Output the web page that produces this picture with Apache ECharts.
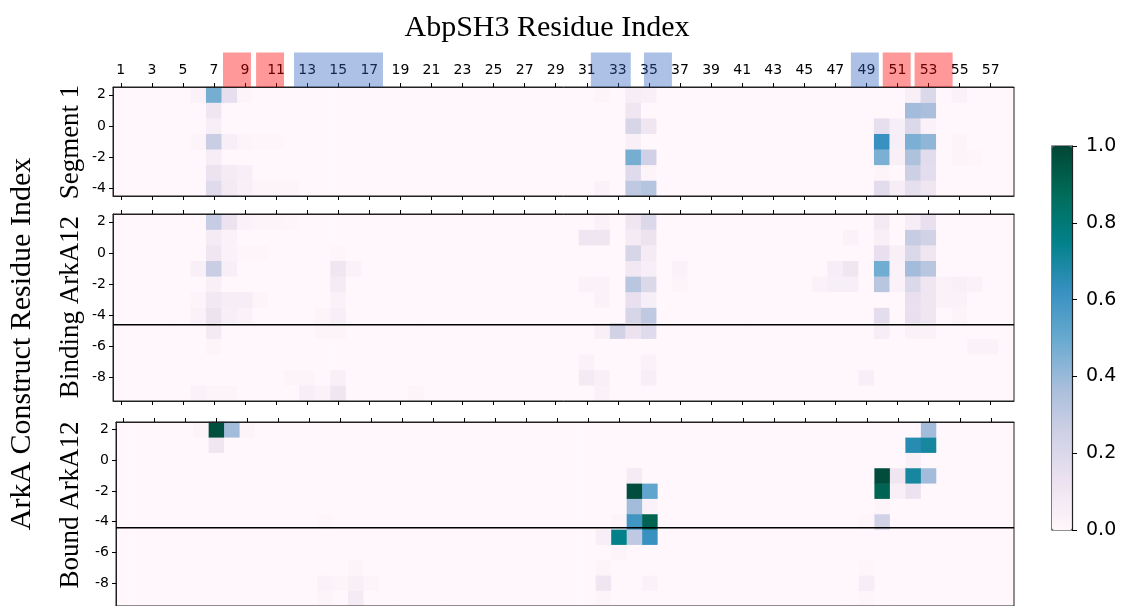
<!DOCTYPE html>
<html>
<head>
<meta charset="utf-8">
<script src="https://cdn.jsdelivr.net/npm/echarts@6/dist/echarts.min.js"></script>
<style>
  html, body { margin: 0; padding: 0; background: #fff; }
  #chart { width: 1122px; height: 606px; }
</style>
</head>
<body>
<div id="chart"></div>
<script>
// AbpSH3 residues along x, ArkA construct residues along y
const residues = Array.from({ length: 58 }, (_, i) => String(i + 1));
const segmentRows = ['-4', '-3', '-2', '-1', '0', '1', '2'];
const arkaRows = ['-9', '-8', '-7', '-6', '-5', '-4', '-3', '-2', '-1', '0', '1', '2'];
const colorbarTicks = [0, 0.2, 0.4, 0.6, 0.8, 1.0];

// Non-zero contact frequencies: [AbpSH3 residue, ArkA residue, value]
const segment1Cells = [
  [6, 2, 0.03], [7, 2, 0.47], [8, 2, 0.15], [9, 2, 0.02],
  [7, 1, 0.10],
  [7, 0, 0.05],
  [6, -1, 0.02], [7, -1, 0.27], [8, -1, 0.05], [9, -1, 0.02], [10, -1, 0.01], [11, -1, 0.01],
  [7, -2, 0.06],
  [7, -3, 0.12], [8, -3, 0.07], [9, -3, 0.05],
  [7, -4, 0.18], [8, -4, 0.08], [9, -4, 0.04], [10, -4, 0.02], [11, -4, 0.02], [12, -4, 0.02],
  [32, 2, 0.02], [34, 2, 0.06], [35, 2, 0.04], [52, 2, 0.04], [53, 2, 0.20], [55, 2, 0.03],
  [34, 1, 0.10], [52, 1, 0.38], [53, 1, 0.36],
  [34, 0, 0.22], [35, 0, 0.10], [50, 0, 0.15], [51, 0, 0.05], [52, 0, 0.20], [53, 0, 0.03],
  [34, -1, 0.04], [50, -1, 0.62], [51, -1, 0.05], [52, -1, 0.46], [53, -1, 0.42], [55, -1, 0.02],
  [34, -2, 0.47], [35, -2, 0.25], [50, -2, 0.46], [51, -2, 0.04], [52, -2, 0.35], [53, -2, 0.17], [55, -2, 0.02], [56, -2, 0.01],
  [34, -3, 0.18], [35, -3, 0.02], [50, -3, 0.02], [52, -3, 0.26], [53, -3, 0.16],
  [32, -4, 0.03], [34, -4, 0.30], [35, -4, 0.33], [50, -4, 0.17], [51, -4, 0.06], [52, -4, 0.15], [53, -4, 0.10]
];

const bindingCells = [
  [7, 2, 0.28], [8, 2, 0.12], [9, 2, 0.03], [10, 2, 0.02], [11, 2, 0.02], [12, 2, 0.01],
  [32, 2, 0.03], [34, 2, 0.10], [35, 2, 0.20], [50, 2, 0.08], [52, 2, 0.06], [53, 2, 0.14],
  [7, 1, 0.07], [8, 1, 0.03],
  [31, 1, 0.10], [32, 1, 0.10], [34, 1, 0.07], [35, 1, 0.12], [48, 1, 0.03], [50, 1, 0.04], [52, 1, 0.28], [53, 1, 0.24],
  [7, 0, 0.10], [8, 0, 0.03], [9, 0, 0.01], [10, 0, 0.01], [15, 0, 0.01],
  [34, 0, 0.22], [35, 0, 0.07], [50, 0, 0.14], [51, 0, 0.04], [52, 0, 0.20], [53, 0, 0.10],
  [6, -1, 0.04], [7, -1, 0.27], [8, -1, 0.05], [15, -1, 0.10], [16, -1, 0.03],
  [34, -1, 0.09], [35, -1, 0.05], [37, -1, 0.03], [47, -1, 0.06], [48, -1, 0.10], [50, -1, 0.48], [51, -1, 0.03], [52, -1, 0.38], [53, -1, 0.32],
  [7, -2, 0.04], [15, -2, 0.07],
  [31, -2, 0.03], [32, -2, 0.03], [34, -2, 0.32], [35, -2, 0.20], [37, -2, 0.02], [46, -2, 0.03], [47, -2, 0.05], [48, -2, 0.05],
  [50, -2, 0.32], [51, -2, 0.03], [52, -2, 0.20], [53, -2, 0.10], [54, -2, 0.03], [55, -2, 0.04], [56, -2, 0.03],
  [6, -3, 0.02], [7, -3, 0.09], [8, -3, 0.06], [9, -3, 0.06], [10, -3, 0.02], [15, -3, 0.03],
  [32, -3, 0.03], [34, -3, 0.14], [35, -3, 0.05], [52, -3, 0.14], [53, -3, 0.10], [54, -3, 0.03], [55, -3, 0.03],
  [6, -4, 0.03], [7, -4, 0.12], [8, -4, 0.05], [9, -4, 0.03], [14, -4, 0.02], [15, -4, 0.05],
  [34, -4, 0.22], [35, -4, 0.30], [50, -4, 0.16], [52, -4, 0.14], [53, -4, 0.10], [55, -4, 0.02],
  [7, -5, 0.08], [14, -5, 0.02], [15, -5, 0.02],
  [32, -5, 0.04], [33, -5, 0.24], [34, -5, 0.12], [35, -5, 0.18], [50, -5, 0.06], [52, -5, 0.03], [53, -5, 0.03],
  [7, -6, 0.02], [56, -6, 0.03], [57, -6, 0.03],
  [31, -7, 0.03], [35, -7, 0.03],
  [12, -8, 0.02], [13, -8, 0.02], [15, -8, 0.04],
  [31, -8, 0.08], [32, -8, 0.04], [35, -8, 0.05], [49, -8, 0.05],
  [6, -9, 0.03], [7, -9, 0.02], [8, -9, 0.02], [13, -9, 0.05], [14, -9, 0.03], [15, -9, 0.10], [20, -9, 0.02],
  [32, -9, 0.03]
];

const boundCells = [
  [6, 2, 0.02], [7, 2, 0.97], [8, 2, 0.38], [9, 2, 0.02], [53, 2, 0.38],
  [7, 1, 0.10], [52, 1, 0.66], [53, 1, 0.70],
  [52, 0, 0.04],
  [34, -1, 0.07], [50, -1, 0.98], [51, -1, 0.10], [52, -1, 0.70], [53, -1, 0.38],
  [34, -2, 0.98], [35, -2, 0.52], [50, -2, 0.90], [51, -2, 0.04], [52, -2, 0.12],
  [34, -3, 0.38], [35, -3, 0.03], [50, -3, 0.02],
  [14, -4, 0.01], [33, -4, 0.02], [34, -4, 0.60], [35, -4, 0.90], [49, -4, 0.01], [50, -4, 0.24],
  [32, -5, 0.05], [33, -5, 0.75], [34, -5, 0.30], [35, -5, 0.62],
  [33, -6, 0.02],
  [16, -7, 0.02], [32, -7, 0.02], [49, -7, 0.01],
  [14, -8, 0.03], [15, -8, 0.02], [16, -8, 0.04], [17, -8, 0.02], [32, -8, 0.10], [35, -8, 0.03], [49, -8, 0.06],
  [14, -9, 0.02], [16, -9, 0.07], [32, -9, 0.02], [49, -9, 0.01]
];

// Boundary between the two ArkA12 segments
const bindingSplit = -4.6;
const boundSplit = -4.4;

// Highlighted AbpSH3 residue spans on the top axis (residue units)
const redSpans = [[7.58, 9.38], [9.71, 11.51], [50.05, 51.85], [52.1, 54.55]];
const blueSpans = [[12.15, 17.88], [31.26, 33.83], [34.68, 36.48], [48.0, 49.8]];

// matplotlib PuBuGn
const puBuGn = ['#fff7fb', '#ece2f0', '#d0d1e6', '#a6bddb', '#67a9cf', '#3690c0', '#02818a', '#016c59', '#014636'];

function toGrid(cells, rows) {
  const lookup = {};
  cells.forEach(([x, y, v]) => { lookup[x + ',' + y] = v; });
  const out = [];
  residues.forEach((r, xi) => {
    rows.forEach((row, yi) => {
      const v = lookup[r + ',' + row];
      out.push([xi, yi, v === undefined ? 0 : v]);
    });
  });
  return out;
}

const SANS = 'DejaVu Sans';
const SERIF = 'Liberation Serif';
const FRAME = '#222';
const oddOnly = (i) => i % 2 === 0;
const evenRow = (i, v) => Number(v) % 2 === 0;

const panels = [
  { left: 113, top: 87, width: 901, height: 109, rows: segmentRows, cells: segment1Cells, labels: true },
  { left: 113, top: 214, width: 901, height: 187, rows: arkaRows, cells: bindingCells, split: bindingSplit },
  { left: 116, top: 422, width: 898, height: 186, rows: arkaRows, cells: boundCells, split: boundSplit }
];

const grid = [], xAxis = [], yAxis = [], series = [];
panels.forEach((p, gi) => {
  grid.push({ left: p.left, top: p.top, width: p.width, height: p.height, show: true,
    borderColor: FRAME, borderWidth: 1, backgroundColor: 'transparent', z: 3 });
  const xBase = xAxis.length;
  ['bottom', 'top'].forEach((pos) => {
    xAxis.push({
      type: 'category', gridIndex: gi, position: pos, data: residues,
      axisLine: { show: true, onZero: false, lineStyle: { color: FRAME, width: 1 } },
      axisTick: { show: true, alignWithLabel: true, interval: oddOnly, length: 4, lineStyle: { color: '#000' } },
      axisLabel: { show: pos === 'top' && !!p.labels, interval: oddOnly, fontFamily: SANS, fontSize: 14, color: '#000', margin: 10 },
      splitLine: { show: false }, z: 4
    });
  });
  xAxis.push({ type: 'value', gridIndex: gi, min: 0.5, max: 58.5, show: false });
  const yBase = yAxis.length;
  yAxis.push({
    type: 'category', gridIndex: gi, data: p.rows,
    axisLine: { show: true, onZero: false, lineStyle: { color: FRAME, width: 1 } },
    axisTick: { show: true, alignWithLabel: true, interval: evenRow, length: 4, lineStyle: { color: '#000' } },
    axisLabel: { interval: evenRow, fontFamily: SANS, fontSize: 14, color: '#000', margin: 7 },
    splitLine: { show: false }, z: 4
  });
  yAxis.push({ type: 'value', gridIndex: gi, min: Number(p.rows[0]) - 0.5, max: Number(p.rows[p.rows.length - 1]) + 0.5, show: false });
  series.push({
    type: 'heatmap', xAxisIndex: xBase, yAxisIndex: yBase,
    data: toGrid(p.cells, p.rows), itemStyle: { borderWidth: 0 }, z: 2, silent: true,
    emphasis: { disabled: true }
  });
  p.valueX = xBase + 2;
  p.valueY = yBase + 1;
});

// separator lines inside the ArkA12 panels
panels.forEach((p) => {
  if (p.split === undefined) return;
  series.push({
    type: 'line', xAxisIndex: p.valueX, yAxisIndex: p.valueY,
    data: [[0.5, p.split], [58.5, p.split]], symbol: 'none', silent: true, clip: false,
    lineStyle: { color: '#000', width: 1.5 }, z: 5
  });
});

// colour bar frame and scale
grid.push({ left: 1052, top: 146, width: 20, height: 384, show: true, borderColor: FRAME, borderWidth: 1.2, backgroundColor: 'transparent', z: 3 });
xAxis.push({ type: 'value', gridIndex: 3, show: false, min: 0, max: 1 });
yAxis.push({
  type: 'value', gridIndex: 3, position: 'right', min: colorbarTicks[0], max: colorbarTicks[colorbarTicks.length - 1], interval: 0.2,
  axisLine: { show: true, onZero: false, lineStyle: { color: FRAME, width: 1.2 } },
  axisTick: { show: true, length: 5, lineStyle: { color: '#000' } },
  axisLabel: { fontFamily: SANS, fontSize: 19, color: '#000', margin: 14, formatter: (v) => v.toFixed(1) },
  splitLine: { show: false }, z: 4
});

const titleGraphics = [
  { id: 't-top', type: 'text', x: 547, y: 28, style: { text: 'AbpSH3 Residue Index', font: '30px "' + SERIF + '"', fill: '#000', textAlign: 'center', textVerticalAlign: 'middle' } },
  { id: 't-left', type: 'text', x: 22, y: 344, rotation: Math.PI / 2, style: { text: 'ArkA Construct Residue Index', font: '30px "' + SERIF + '"', fill: '#000', textAlign: 'center', textVerticalAlign: 'middle' } },
  { id: 't-seg', type: 'text', x: 71, y: 142, rotation: Math.PI / 2, style: { text: 'Segment 1', font: '27px "' + SERIF + '"', fill: '#000', textAlign: 'center', textVerticalAlign: 'middle' } },
  { id: 't-bind', type: 'text', x: 71, y: 307, rotation: Math.PI / 2, style: { text: 'Binding ArkA12', font: '27px "' + SERIF + '"', fill: '#000', textAlign: 'center', textVerticalAlign: 'middle' } },
  { id: 't-bound', type: 'text', x: 71, y: 505, rotation: Math.PI / 2, style: { text: 'Bound ArkA12', font: '27px "' + SERIF + '"', fill: '#000', textAlign: 'center', textVerticalAlign: 'middle' } }
];

const chart = echarts.init(document.getElementById('chart'), null, { renderer: 'canvas' });
chart.setOption({
  animation: false,
  backgroundColor: '#fff',
  grid, xAxis, yAxis, series,
  visualMap: {
    type: 'continuous', min: 0, max: 1, seriesIndex: [0, 1, 2],
    left: 1052, top: 146, itemWidth: 20, itemHeight: 384, padding: 0,
    calculable: false, hoverLink: false, text: null, showLabel: false,
    inRange: { color: puBuGn }
  },
  graphic: titleGraphics
});

// translucent highlight boxes over the top residue labels
const p0 = panels[0];
const boxes = [];
const addBoxes = (spans, fill, tag) => spans.forEach(([a, b], i) => {
  const x0 = chart.convertToPixel({ xAxisIndex: p0.valueX }, a);
  const x1 = chart.convertToPixel({ xAxisIndex: p0.valueX }, b);
  boxes.push({ id: tag + i, type: 'rect', z: 50, silent: true,
    shape: { x: x0, y: 52.5, width: x1 - x0, height: p0.top - 52.5 },
    style: { fill } });
});
addBoxes(redSpans, 'rgba(255,0,0,0.4)', 'red');
addBoxes(blueSpans, 'rgba(50,100,195,0.4)', 'blue');
chart.setOption({ graphic: titleGraphics.concat(boxes) });
</script>
</body>
</html>
